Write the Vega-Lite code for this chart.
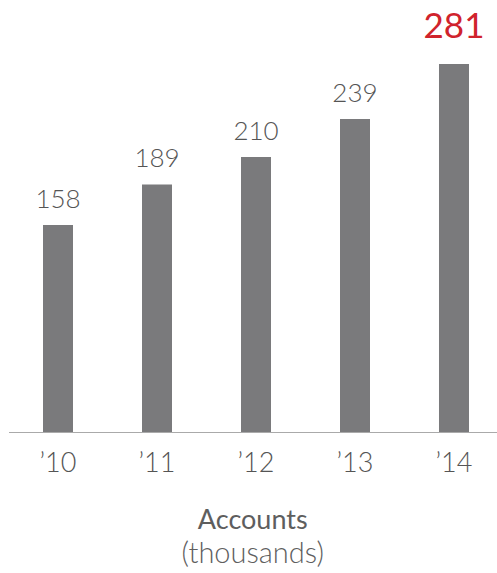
{
  "$schema": "https://vega.github.io/schema/vega-lite/v6.json",
  "width": 488.5,
  "height": 393,
  "autosize": {"type": "none"},
  "padding": {"left": 8.5, "top": 39, "right": 0, "bottom": 141},
  "background": "white",
  "config": {"view": {"stroke": null}},
  "title": {
    "text": "Accounts",
    "subtitle": "(thousands)",
    "orient": "bottom",
    "anchor": "middle",
    "font": "Lato",
    "fontSize": 27,
    "fontWeight": 400,
    "color": "#5e5e5e",
    "subtitleFont": "Lato",
    "subtitleFontSize": 29,
    "subtitleFontWeight": 300,
    "subtitleColor": "#5f5f5f",
    "subtitlePadding": 5,
    "offset": 32
  },
  "data": {
    "values": [
      {"year": "’10", "accounts": 158},
      {"year": "’11", "accounts": 189},
      {"year": "’12", "accounts": 210},
      {"year": "’13", "accounts": 239},
      {"year": "’14", "accounts": 281}
    ]
  },
  "encoding": {
    "x": {
      "field": "year",
      "type": "nominal",
      "sort": null,
      "scale": {"paddingInner": 0.697, "paddingOuter": 0.3157, "align": 0.552},
      "axis": {
        "title": null,
        "labelAngle": 0,
        "ticks": false,
        "domainColor": "#aaaaaa",
        "domainWidth": 1.2,
        "labelFont": "Lato",
        "labelFontWeight": 300,
        "labelFontSize": 27,
        "labelColor": "#555555",
        "labelPadding": 18
      }
    },
    "y": {
      "field": "accounts",
      "type": "quantitative",
      "scale": {"domain": [0, 300]},
      "axis": null
    }
  },
  "layer": [
    {"mark": {"type": "bar", "color": "#7a7a7c"}},
    {
      "transform": [{"filter": "datum.year !== '’14'"}],
      "mark": {"type": "text", "baseline": "alphabetic", "font": "Lato", "fontWeight": 300, "fontSize": 26, "color": "#555555", "dy": -17},
      "encoding": {
        "text": {"field": "accounts", "type": "quantitative"}
      }
    },
    {
      "transform": [{"filter": "datum.year === '’14'"}],
      "mark": {"type": "text", "baseline": "alphabetic", "font": "Lato", "fontWeight": 400, "fontSize": 35, "color": "#d0232c", "dy": -26},
      "encoding": {
        "text": {"field": "accounts", "type": "quantitative"}
      }
    }
  ]
}
